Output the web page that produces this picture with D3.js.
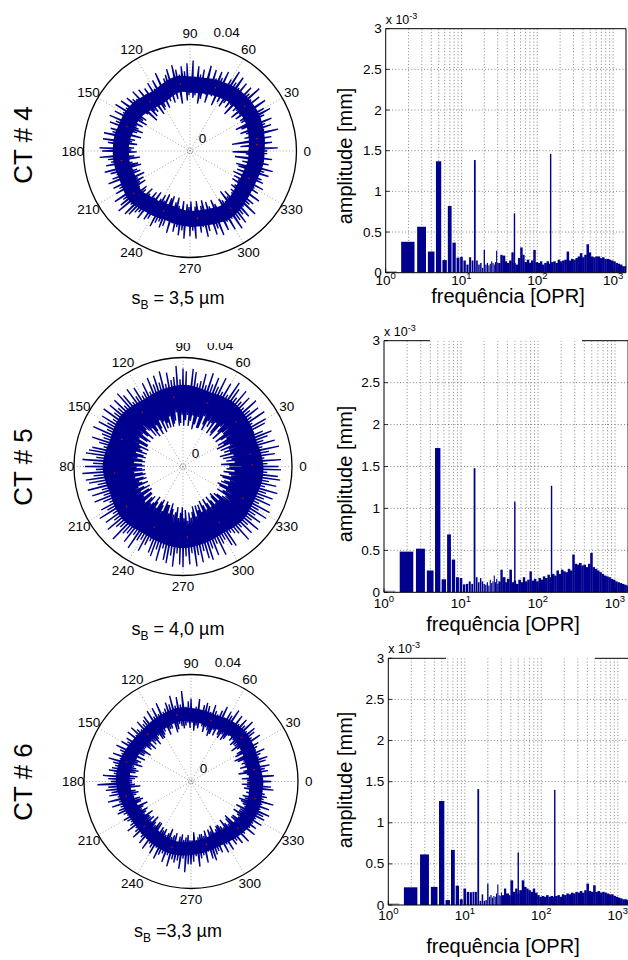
<!DOCTYPE html>
<html>
<head>
<meta charset="utf-8">
<script src="https://cdn.jsdelivr.net/npm/d3@7"></script>
<style>
  body { margin: 0; background: #fff; }
  svg { display: block; }
  text { font-family: "Liberation Sans", Arial, Helvetica, sans-serif; fill: #000; }
</style>
</head>
<body>
<svg id="chart" width="628" height="960"></svg>
<script>
// ---- data ----
var rowNames = ["CT # 4", "CT # 5", "CT # 6"];
var sbTexts = [" = 3,5 µm", " = 4,0 µm", " =3,3 µm"];
var angleTicks = [0, 30, 60, 90, 120, 150, 180, 210, 240, 270, 300, 330];
var radialTicks = [0, 40];          // µm  (shown as mm)
var radialLabels = ["0", "0.04"];
var ampTicks = [0, 0.5, 1, 1.5, 2, 2.5, 3];   // x 10^-3 mm
var ampLabels = ["0", "0.5", "1", "1.5", "2", "2.5", "3"];
var freqTicks = [1, 10, 100, 1000];
var freqMax = 1480;

// roundness profiles, radius in µm, one value per degree from 0 deg (30 per row)
var profile4 = [
  29,22,33,24,27,19,31,25,28,16,  31,23,28,21,34,24,29,22,32,20,  30,24,33,21,28,19,31,26,34,22,
  32,22,29,25,34,21,27,23,33,20,  30,23,35,22,31,24,33,19,29,23,  33,21,30,25,34,22,31,20,35,23,
  31,21,28,24,33,19,30,25,32,22,  29,23,32,19,27,22,33,24,28,20,  31,18,29,23,32,21,28,20,34,22,
  28,21,33,19,30,23,32,24,29,18,  31,23,33,20,28,22,32,19,30,24,  29,20,27,22,32,18,26,23,30,19,
  27,18,30,21,26,17,29,22,27,19,  30,20,26,18,31,22,28,17,29,21,  31,22,27,24,32,20,29,21,33,19,
  29,23,32,20,28,22,33,21,30,19,  32,21,28,23,31,19,30,24,33,21,  29,22,33,20,31,26,28,21,34,22,
  33,20,29,23,34,21,31,19,30,24,  32,22,28,20,33,19,31,24,29,21,  31,20,33,23,28,19,32,22,30,20,
  32,22,29,20,34,23,31,25,33,21,  35,22,30,24,34,20,33,22,31,24,  30,20,32,22,28,19,31,23,30,21,
  28,19,32,21,30,18,29,23,31,19,  30,18,27,22,32,20,28,18,31,21,  29,22,32,19,30,23,33,20,28,21,
  32,19,30,23,33,21,28,19,31,23,  29,21,33,19,31,23,28,20,33,22,  31,23,34,20,29,22,33,26,30,24,
  34,21,30,22,35,23,32,19,34,22,  31,20,33,24,29,22,34,21,30,23,  31,20,28,21,32,23,27,19,30,21,
  28,19,31,22,27,18,30,24,29,19,  27,22,31,19,29,18,32,22,27,20,  30,22,28,17,31,23,28,21,29,16
];
var profile5 = [
  35,17,31,14,36,19,30,16,34,18,  32,15,36,19,30,14,35,18,31,16,  33,18,35,15,32,19,29,14,34,17,
  35,15,30,19,36,17,31,15,35,19,  32,19,36,15,31,18,35,20,32,15,  36,16,32,20,35,15,37,19,31,17,
  35,19,31,15,36,17,32,20,35,15,  32,15,36,19,31,16,35,14,32,19,  31,17,35,15,36,19,30,17,35,15,
  36,19,32,16,37,15,33,20,32,17,  35,16,31,15,36,19,32,15,35,17,  32,15,35,18,30,14,34,19,31,16,
  30,14,34,18,31,16,35,14,30,18,  34,15,36,18,31,19,35,15,32,17,  35,19,32,15,36,16,31,19,35,15,
  32,15,35,18,31,14,36,17,32,16,  31,14,35,18,32,15,30,14,34,17,  35,15,36,14,32,18,37,15,33,14,
  36,17,32,15,37,14,33,18,36,15,  35,14,32,18,36,15,31,14,35,17,  31,16,35,14,32,18,30,16,34,14,
  32,18,36,15,31,14,35,18,32,15,  36,15,33,19,32,16,37,15,33,18,  32,17,35,14,31,16,36,18,32,15,
  31,14,35,16,32,18,30,14,34,15,  35,15,32,18,36,14,31,16,35,18,  36,17,33,15,37,19,32,17,36,15,
  37,19,33,16,36,20,32,17,37,19,  33,17,36,15,32,19,35,15,36,17,  32,15,35,18,31,14,36,16,32,18,
  31,14,34,16,35,18,30,14,31,16,  32,18,36,15,31,14,35,18,32,15,  36,16,32,18,35,19,32,15,36,17,
  32,18,36,15,31,14,35,18,32,15,  35,16,32,18,36,15,31,14,35,18,  32,17,36,15,35,19,31,16,36,17
];
var profile6 = [
  30,21,27,19,31,22,26,21,29,18,  28,20,30,22,26,19,29,21,30,20,  27,21,28,19,30,18,27,22,28,19,
  29,20,27,22,31,21,28,19,30,21,  31,21,28,20,32,22,29,21,31,23,  28,22,31,20,27,19,32,21,29,19,
  30,20,27,22,31,19,29,21,27,19,  28,18,30,20,27,21,29,19,30,21,  29,22,27,20,31,21,28,19,27,22,
  31,20,30,22,28,21,34,20,29,21,  32,22,29,20,33,19,30,23,31,21,  29,21,28,19,32,22,28,21,31,20,
  28,19,31,19,27,21,30,20,29,18,  28,20,30,19,27,21,28,18,30,20,  27,19,30,21,26,21,29,18,28,20,
  30,20,27,22,31,19,29,22,28,20,  31,21,28,19,32,22,30,21,29,20,  30,21,31,23,29,20,33,21,31,22,
  30,22,35,21,31,19,32,23,30,21,  31,20,28,21,32,22,28,20,31,19,  28,20,29,22,30,18,28,20,27,21,
  29,19,28,20,27,21,28,18,30,20,  27,20,28,19,30,21,27,18,28,20,  30,21,27,19,31,19,28,22,29,20,
  31,21,28,20,32,22,30,21,29,19,  32,22,29,21,33,20,30,23,31,21,  30,20,33,22,29,21,34,20,31,22,
  31,22,30,19,28,22,32,21,29,20,  28,20,31,21,27,19,30,22,31,19,  29,20,28,18,29,21,26,20,30,19,
  27,19,30,20,26,21,29,18,28,20,  30,21,27,19,31,18,28,22,27,20,  31,20,28,22,30,21,28,19,31,21,
  28,21,31,19,30,22,32,21,28,20,  31,19,28,21,32,20,28,23,29,21,  28,22,27,20,31,21,30,19,27,21
];
// red mean line, one value every 10 degrees
var mean4 = [25,25.5,26,26.5,26.5,26.5,26,25.5,25,25,25.5,24.5,23.5,24,25,25.5,25.5,26,
             26,26,25.5,26,26.5,25.5,25,24.5,25,25.5,25.5,26,26.5,26,25,24.5,24.5,25];
var mean5 = [25.5,25,24.5,25,25.5,26,25.5,25,25.5,26,25.5,25,24.5,25,25.5,25,24.5,25,
             25.5,25,24.5,25,25.5,25,24.5,25,25.5,26,25.5,25,24.5,25,25.5,25,25,25.5];
var mean6 = [24.5,24,24,24.5,25,25,24.5,24,24.5,25,25.5,25,24.5,24,24,24.5,25,25.5,
             25.5,25,24.5,24,24,24.5,25,25.5,25.5,25,24.5,24,24,24.5,25,25,25,24.5];

// spectrum: amplitudes (x 10^-3 mm) of harmonics 1..30
var harm4 = [0.02,0.38,0.565,0.26,1.37,0.155,0.82,0.37,0.185,0.195,0.15,0.10,0.19,0.15,1.385,
             0.15,0.10,0.12,0.06,0.28,0.10,0.12,0.09,0.11,0.14,0.12,0.10,0.13,0.27,0.12];
var harm5 = [0.02,0.485,0.52,0.26,1.72,0.155,0.69,0.39,0.18,0.17,0.095,0.10,0.13,0.10,1.48,
             0.18,0.12,0.17,0.13,0.10,0.09,0.12,0.08,0.15,0.11,0.13,0.20,0.12,0.16,0.10];
var harm6 = [0.02,0.215,0.615,0.22,1.265,0.06,0.67,0.235,0.07,0.20,0.16,0.155,0.16,0.16,1.41,
             0.05,0.13,0.05,0.06,0.26,0.10,0.12,0.09,0.11,0.10,0.14,0.25,0.12,0.11,0.15];
// higher harmonics grouped in bands (edges in harmonic number)
var bandEdges = [30,32,34,37,39,42,45,48,51,55,59,63,67,72,77,82,88,94,101,108,115,123,132,
                 141,151,162,173,185,198,212,227,243,260,278,297,318,340,364,389,416,445,476,
                 509,545,583,624,668,715,765,818,875,936,1002,1072,1147,1227,1313,1405,1480];
var band4 = [0.12,0.22,0.21,0.14,0.12,0.15,0.25,0.12,0.10,0.18,0.31,0.22,0.13,0.16,0.12,0.15,
             0.28,0.13,0.12,0.14,0.10,0.12,0.14,0.11,0.13,0.14,0.12,0.16,0.14,0.15,0.16,0.26,
             0.15,0.17,0.16,0.18,0.20,0.24,0.19,0.22,0.35,0.25,0.20,0.19,0.20,0.20,0.18,0.19,
             0.17,0.17,0.16,0.15,0.14,0.12,0.11,0.10,0.08,0.08];
var band5 = [0.13,0.27,0.18,0.12,0.16,0.27,0.12,0.14,0.10,0.15,0.12,0.18,0.13,0.15,0.25,0.14,
             0.16,0.13,0.17,0.15,0.19,0.17,0.21,0.18,0.22,0.20,0.26,0.22,0.27,0.25,0.24,0.28,
             0.26,0.45,0.34,0.33,0.35,0.32,0.33,0.30,0.34,0.47,0.30,0.28,0.26,0.24,0.22,0.20,
             0.19,0.18,0.16,0.15,0.13,0.12,0.11,0.10,0.09,0.08];
var band6 = [0.12,0.20,0.14,0.12,0.30,0.16,0.20,0.14,0.18,0.30,0.22,0.20,0.18,0.16,0.20,0.15,
             0.12,0.10,0.11,0.10,0.12,0.10,0.11,0.10,0.11,0.12,0.10,0.13,0.12,0.14,0.13,0.15,
             0.14,0.16,0.15,0.17,0.15,0.18,0.26,0.17,0.16,0.24,0.16,0.17,0.15,0.16,0.15,0.14,
             0.13,0.13,0.11,0.10,0.09,0.08,0.07,0.07,0.06,0.06];
// isolated peaks [harmonic, amplitude]
var peaks4 = [[50, 0.73], [150, 1.46]];
var peaks5 = [[50, 1.08], [150, 1.27]];
var peaks6 = [[50, 0.64], [150, 1.40]];

// ---- layout ----
var rows = [
  { name: rowNames[0], nameY: 145, sb: sbTexts[0], sbY: 304,
    profile: profile4, mean: mean4, harm: harm4, band: band4, peaks: peaks4,
    polar: { cx: 190, cy: 151, R: 106.5, core: 6, clip: null },
    spec: { x0: 385.7, x1: 626, top: 28.7, bot: 272.7, tickDy: 12.5, ylabY: 156, xlabX: 508, xlabY: 303,
            topSegs: null } },
  { name: rowNames[1], nameY: 467, sb: sbTexts[1], sbY: 635,
    profile: profile5, mean: mean5, harm: harm5, band: band5, peaks: peaks5,
    polar: { cx: 183, cy: 466.5, R: 109, core: 8, clip: { x: 60, y: 343 } },
    spec: { x0: 384, x1: 628.1, top: 340.7, bot: 592.3, tickDy: 15.5, ylabY: 474, xlabX: 503, xlabY: 631,
            topSegs: [[384, 430], [582, 628]] } },
  { name: rowNames[2], nameY: 782, sb: sbTexts[2], sbY: 937,
    profile: profile6, mean: mean6, harm: harm6, band: band6, peaks: peaks6,
    polar: { cx: 191, cy: 781.5, R: 107, core: 5, clip: null },
    spec: { x0: 388.3, x1: 630.8, top: 658.3, bot: 905, tickDy: 15, ylabY: 780, xlabX: 503, xlabY: 953,
            topSegs: [[388.3, 446], [595, 628]] } }
];

var svg = d3.select("#chart");
var BLUE = "#00008f";

function drawPolar(g, p, profile, meanProf, idx) {
  var r = d3.scaleLinear().domain([0, 40]).range([0, p.R]);
  var root = g;
  if (p.clip) {
    var cid = "pclip" + idx;
    g.append("clipPath").attr("id", cid).append("rect")
      .attr("x", p.clip.x).attr("y", p.clip.y).attr("width", 400).attr("height", 400);
    root = g.append("g").attr("clip-path", "url(#" + cid + ")");
  }
  var c = root.append("g").attr("transform", "translate(" + p.cx + "," + p.cy + ")");

  // spokes
  c.selectAll("line.spoke").data(angleTicks.slice(0, 6)).enter().append("line")
    .attr("x1", function(d) { return p.R * Math.cos(d * Math.PI / 180); })
    .attr("y1", function(d) { return -p.R * Math.sin(d * Math.PI / 180); })
    .attr("x2", function(d) { return -p.R * Math.cos(d * Math.PI / 180); })
    .attr("y2", function(d) { return p.R * Math.sin(d * Math.PI / 180); })
    .attr("stroke", "#888").attr("stroke-width", 0.8).attr("stroke-dasharray", "1,2.2");
  // small inner ring
  c.append("circle").attr("r", 2.6).attr("fill", "none")
    .attr("stroke", "#777").attr("stroke-width", 0.7).attr("stroke-dasharray", "1,1");

  var meanLine = d3.lineRadial()
    .angle(function(d, i) { return Math.PI / 2 - i * 10 * Math.PI / 180; })
    .radius(function(d) { return r(d); })
    .curve(d3.curveCardinalClosed);
  // dense core of the trace
  c.append("path").attr("d", meanLine(meanProf)).attr("fill", "none")
    .attr("stroke", BLUE).attr("stroke-width", r(p.core));

  // blue profile
  var line = d3.lineRadial()
    .angle(function(d, i) { return Math.PI / 2 - i * Math.PI / 180; })
    .radius(function(d) { return r(d); })
    .curve(d3.curveLinearClosed);
  c.append("path").attr("d", line(profile)).attr("fill", "none")
    .attr("stroke", BLUE).attr("stroke-width", 1.35);

  // red mean line, mostly hidden by the trace
  c.append("path").attr("d", meanLine(meanProf)).attr("fill", "none")
    .attr("stroke", "#ff0000").attr("stroke-width", 1.3).attr("stroke-dasharray", "1.2,34");

  // outer circle
  c.append("circle").attr("r", r(radialTicks[1])).attr("fill", "none")
    .attr("stroke", "#000").attr("stroke-width", 1.3);

  // angle labels
  c.selectAll("text.ang").data(angleTicks).enter().append("text")
    .attr("x", function(d) { return 1.1 * p.R * Math.cos(d * Math.PI / 180); })
    .attr("y", function(d) { return -1.1 * p.R * Math.sin(d * Math.PI / 180); })
    .attr("text-anchor", "middle").attr("dominant-baseline", "central")
    .attr("font-size", "13.5px").text(function(d) { return d; });

  // radial labels at 82 deg
  var a82 = 82 * Math.PI / 180;
  c.selectAll("text.rad").data(radialTicks).enter().append("text")
    .attr("x", function(d) { return r(d + 2) * Math.cos(a82) + 8; })
    .attr("y", function(d) { return -r(d + 2) * Math.sin(a82) - 3; })
    .attr("font-size", "13.5px")
    .text(function(d, i) { return radialLabels[i]; });
}

function drawSpectrum(g, s, harm, band, peaks, idx) {
  var x = d3.scaleLog().domain([1, freqMax]).range([s.x0, s.x1]);
  var y = d3.scaleLinear().domain([0, 3]).range([s.bot, s.top]);

  var cid = "sclip" + idx;
  g.append("clipPath").attr("id", cid).append("rect")
    .attr("x", s.x0).attr("y", s.top).attr("width", s.x1 - s.x0).attr("height", s.bot - s.top);
  var plot = g.append("g").attr("clip-path", "url(#" + cid + ")");

  // grid
  var minor = x.ticks().filter(function(v) { return v > 1; });
  plot.selectAll("line.vg").data(minor).enter().append("line")
    .attr("x1", function(d) { return x(d); }).attr("x2", function(d) { return x(d); })
    .attr("y1", s.top).attr("y2", s.bot)
    .attr("stroke", "#666").attr("stroke-width", 0.8).attr("stroke-dasharray", "1,2.2");
  plot.selectAll("line.hg").data(ampTicks.slice(1, 6)).enter().append("line")
    .attr("x1", s.x0).attr("x2", s.x1)
    .attr("y1", function(d) { return y(d); }).attr("y2", function(d) { return y(d); })
    .attr("stroke", "#666").attr("stroke-width", 0.8).attr("stroke-dasharray", "1,2.2");

  // bands of high harmonics
  plot.selectAll("rect.band").data(band).enter().append("rect")
    .attr("x", function(d, i) { return x(bandEdges[i] + 0.5); })
    .attr("width", function(d, i) { return x(bandEdges[i + 1] + 0.5) - x(bandEdges[i] + 0.5) + 0.3; })
    .attr("y", function(d) { return y(d); })
    .attr("height", function(d) { return y(0) - y(d); })
    .attr("fill", BLUE);

  // individual harmonics
  plot.selectAll("rect.harm").data(harm).enter().append("rect")
    .attr("x", function(d, i) { return x(i + 1 - 0.4); })
    .attr("width", function(d, i) { return Math.max(x(i + 1.4) - x(i + 0.6), 1.1); })
    .attr("y", function(d) { return y(d); })
    .attr("height", function(d) { return y(0) - y(d); })
    .attr("fill", function(d, i) { return i === 0 ? "#a4a6c8" : BLUE; });

  // isolated peaks
  plot.selectAll("rect.peak").data(peaks).enter().append("rect")
    .attr("x", function(d) { return x(d[0]) - 0.7; })
    .attr("width", 1.4)
    .attr("y", function(d) { return y(d[1]); })
    .attr("height", function(d) { return y(0) - y(d[1]); })
    .attr("fill", BLUE);

  // ticks (inside)
  var ax = g.append("g");
  ax.selectAll("line.yt").data(ampTicks).enter().append("line")
    .attr("x1", s.x0).attr("x2", s.x0 + 4)
    .attr("y1", function(d) { return y(d); }).attr("y2", function(d) { return y(d); })
    .attr("stroke", "#000").attr("stroke-width", 0.8);
  ax.selectAll("line.xt").data(freqTicks).enter().append("line")
    .attr("x1", function(d) { return x(d); }).attr("x2", function(d) { return x(d); })
    .attr("y1", s.bot).attr("y2", s.bot - 4)
    .attr("stroke", "#000").attr("stroke-width", 0.8);

  // box
  ax.append("line").attr("x1", s.x0).attr("x2", s.x0).attr("y1", s.top).attr("y2", s.bot)
    .attr("stroke", "#000").attr("stroke-width", 1);
  ax.append("line").attr("x1", s.x0).attr("x2", s.x1).attr("y1", s.bot).attr("y2", s.bot)
    .attr("stroke", "#000").attr("stroke-width", 1);
  ax.append("line").attr("x1", s.x1).attr("x2", s.x1).attr("y1", s.top).attr("y2", s.bot)
    .attr("stroke", "#000").attr("stroke-width", 1);
  var segs = s.topSegs || [[s.x0, s.x1]];
  ax.selectAll("line.top").data(segs).enter().append("line")
    .attr("x1", function(d) { return d[0]; }).attr("x2", function(d) { return d[1]; })
    .attr("y1", s.top).attr("y2", s.top)
    .attr("stroke", "#000").attr("stroke-width", 1);

  // tick labels
  ax.selectAll("text.yl").data(ampTicks).enter().append("text")
    .attr("x", s.x0 - 4).attr("y", function(d) { return y(d); })
    .attr("text-anchor", "end").attr("dominant-baseline", "central")
    .attr("font-size", "13.5px").text(function(d, i) { return ampLabels[i]; });
  var xl = ax.selectAll("text.xl").data(freqTicks).enter().append("text")
    .attr("x", function(d) { return x(d); }).attr("y", s.bot + s.tickDy)
    .attr("text-anchor", "middle").attr("font-size", "13.5px");
  xl.append("tspan").text("10");
  xl.append("tspan").attr("dy", -6).attr("font-size", "9.5px")
    .text(function(d) { return Math.round(Math.log10(d)); });

  // multiplier
  var m = ax.append("text").attr("x", s.x0).attr("y", s.top - 5).attr("font-size", "12.5px");
  m.append("tspan").text("x 10");
  m.append("tspan").attr("dy", -5).attr("font-size", "9px").text("-3");

  // axis labels
  ax.append("text").attr("transform", "translate(352," + s.ylabY + ") rotate(-90)")
    .attr("text-anchor", "middle").attr("font-size", "20px").text("amplitude [mm]");
  ax.append("text").attr("x", s.xlabX).attr("y", s.xlabY)
    .attr("text-anchor", "middle").attr("font-size", "20px").text("frequência [OPR]");
}

rows.forEach(function(row, i) {
  var g = svg.append("g");
  drawPolar(g, row.polar, row.profile, row.mean, i);
  drawSpectrum(g, row.spec, row.harm, row.band, row.peaks, i);

  g.append("text").attr("transform", "translate(32," + row.nameY + ") rotate(-90)")
    .attr("text-anchor", "middle").attr("font-size", "26px").text(row.name);

  var t = g.append("text").attr("x", 178).attr("y", row.sbY)
    .attr("text-anchor", "middle").attr("font-size", "18px");
  t.append("tspan").text("s");
  t.append("tspan").attr("dy", 5).attr("font-size", "12px").text("B");
  t.append("tspan").attr("dy", -5).text(row.sb);
});
</script>
</body>
</html>
